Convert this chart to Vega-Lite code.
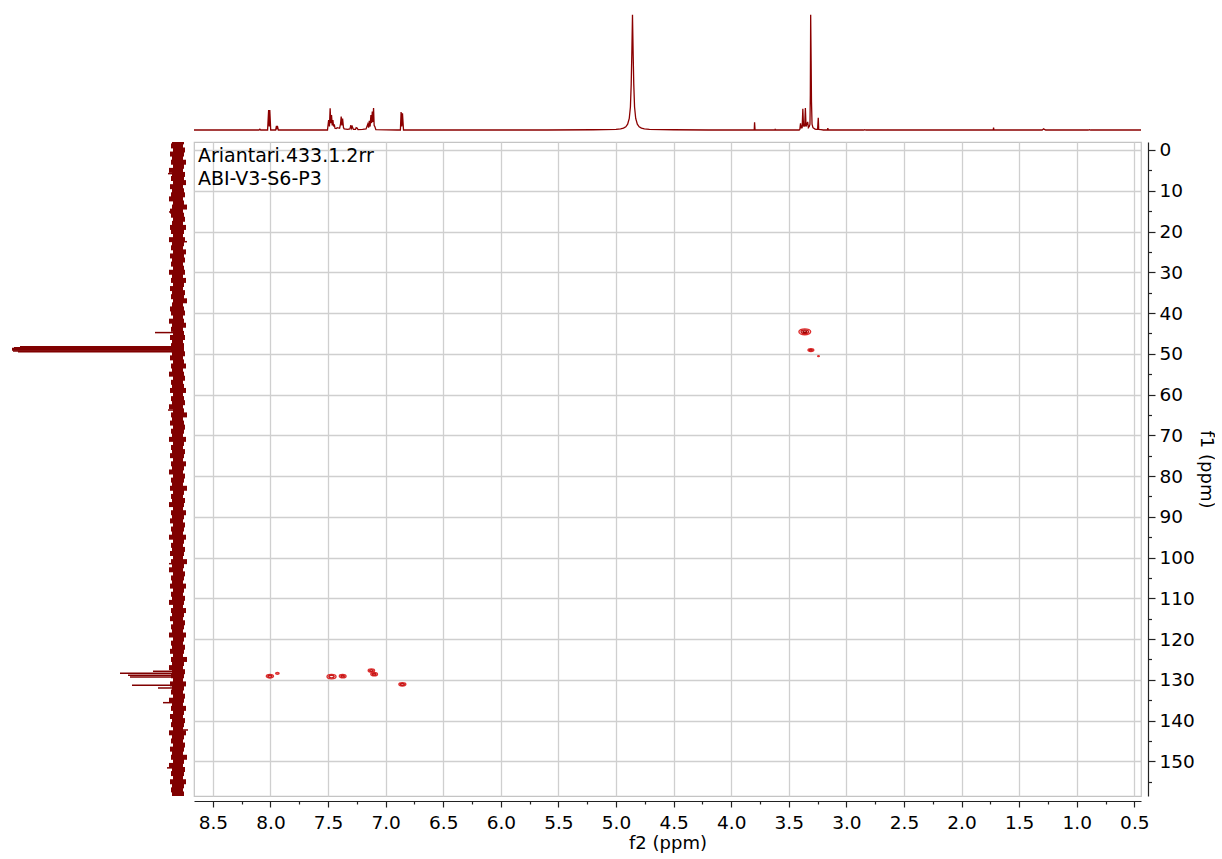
{
  "$schema": "https://vega.github.io/schema/vega-lite/v6.json",
  "padding": {"left": 5, "top": 10, "right": 0, "bottom": 0},
  "config": {
    "view": {"stroke": null},
    "font": "DejaVu Sans",
    "axis": {"labelFont": "DejaVu Sans", "titleFont": "DejaVu Sans", "labelFontSize": 18.5, "titleFontSize": 18, "titleFontWeight": "normal", "labelColor": "#000", "titleColor": "#000"}
  },
  "datasets": {
    "proton": [
      {"h": 8.664, "i": 0}, {"h": 8.3, "i": 0}, {"h": 8.1, "i": 0}, {"h": 8.092, "i": 0.7}, {"h": 8.085, "i": 0},
      {"h": 8.025, "i": 0}, {"h": 8.016, "i": 17.3}, {"h": 8.011, "i": 3}, {"h": 8.006, "i": 17.3}, {"h": 7.998, "i": 0},
      {"h": 7.955, "i": 0}, {"h": 7.948, "i": 3.5}, {"h": 7.944, "i": 2}, {"h": 7.94, "i": 3.5}, {"h": 7.932, "i": 0},
      {"h": 7.8, "i": 0}, {"h": 7.505, "i": 0}, {"h": 7.495, "i": 8.7}, {"h": 7.488, "i": 3}, {"h": 7.482, "i": 18.8}, {"h": 7.476, "i": 6},
      {"h": 7.47, "i": 13}, {"h": 7.464, "i": 4}, {"h": 7.458, "i": 8.7}, {"h": 7.452, "i": 3}, {"h": 7.446, "i": 5}, {"h": 7.44, "i": 1.5},
      {"h": 7.43, "i": 1.2}, {"h": 7.42, "i": 2}, {"h": 7.4, "i": 1.5}, {"h": 7.392, "i": 5}, {"h": 7.386, "i": 11.6}, {"h": 7.38, "i": 4},
      {"h": 7.374, "i": 10}, {"h": 7.366, "i": 2}, {"h": 7.36, "i": 1}, {"h": 7.345, "i": 0.8}, {"h": 7.33, "i": 0.5}, {"h": 7.31, "i": 1},
      {"h": 7.302, "i": 4.3}, {"h": 7.296, "i": 1.5}, {"h": 7.29, "i": 3}, {"h": 7.28, "i": 0.5}, {"h": 7.262, "i": 0.5}, {"h": 7.256, "i": 2},
      {"h": 7.248, "i": 1.7}, {"h": 7.24, "i": 0.3}, {"h": 7.2, "i": 0.5}, {"h": 7.17, "i": 1}, {"h": 7.155, "i": 5.2}, {"h": 7.148, "i": 2},
      {"h": 7.142, "i": 8}, {"h": 7.135, "i": 3}, {"h": 7.128, "i": 13}, {"h": 7.122, "i": 6}, {"h": 7.116, "i": 16}, {"h": 7.111, "i": 7},
      {"h": 7.105, "i": 19}, {"h": 7.1, "i": 4}, {"h": 7.094, "i": 3}, {"h": 7.085, "i": 0.3}, {"h": 6.9, "i": 0}, {"h": 6.872, "i": 0},
      {"h": 6.866, "i": 15.6}, {"h": 6.86, "i": 3}, {"h": 6.854, "i": 14.5}, {"h": 6.845, "i": 0}, {"h": 6.5, "i": 0}, {"h": 5.6, "i": 0},
      {"h": 5.2, "i": 0.2}, {"h": 5.0, "i": 0.5}, {"h": 4.96, "i": 0.9}, {"h": 4.935, "i": 1.6}, {"h": 4.915, "i": 2.8}, {"h": 4.899, "i": 5},
      {"h": 4.885, "i": 10}, {"h": 4.875, "i": 20}, {"h": 4.868, "i": 40}, {"h": 4.862, "i": 70}, {"h": 4.857, "i": 100}, {"h": 4.852, "i": 70},
      {"h": 4.846, "i": 40}, {"h": 4.839, "i": 20}, {"h": 4.829, "i": 10}, {"h": 4.815, "i": 5}, {"h": 4.799, "i": 2.8}, {"h": 4.779, "i": 1.6},
      {"h": 4.754, "i": 0.9}, {"h": 4.71, "i": 0.5}, {"h": 4.5, "i": 0.2}, {"h": 4.2, "i": 0}, {"h": 3.8, "i": 0}, {"h": 3.797, "i": 6.6},
      {"h": 3.793, "i": 0}, {"h": 3.62, "i": 0}, {"h": 3.618, "i": 0.5}, {"h": 3.614, "i": 0}, {"h": 3.41, "i": 0}, {"h": 3.404, "i": 0.5},
      {"h": 3.398, "i": 5.8}, {"h": 3.394, "i": 1.5}, {"h": 3.389, "i": 4}, {"h": 3.384, "i": 1.5}, {"h": 3.378, "i": 18.5}, {"h": 3.372, "i": 3},
      {"h": 3.368, "i": 5}, {"h": 3.362, "i": 3}, {"h": 3.356, "i": 19}, {"h": 3.35, "i": 3}, {"h": 3.344, "i": 5}, {"h": 3.336, "i": 7},
      {"h": 3.33, "i": 2}, {"h": 3.322, "i": 3}, {"h": 3.316, "i": 5}, {"h": 3.313, "i": 30}, {"h": 3.31, "i": 100}, {"h": 3.306, "i": 60},
      {"h": 3.303, "i": 25}, {"h": 3.298, "i": 5}, {"h": 3.29, "i": 2}, {"h": 3.275, "i": 1}, {"h": 3.265, "i": 0.5}, {"h": 3.25, "i": 0.5},
      {"h": 3.244, "i": 10.7}, {"h": 3.24, "i": 0.5}, {"h": 3.22, "i": 0.3}, {"h": 3.2, "i": 0}, {"h": 3.165, "i": 0}, {"h": 3.161, "i": 1.7},
      {"h": 3.157, "i": 0}, {"h": 2.85, "i": 0}, {"h": 2.84, "i": 0.3}, {"h": 2.83, "i": 0}, {"h": 1.725, "i": 0}, {"h": 1.722, "i": 2},
      {"h": 1.719, "i": 0}, {"h": 1.3, "i": 0}, {"h": 1.287, "i": 1}, {"h": 1.28, "i": 0.5}, {"h": 1.27, "i": 0}, {"h": 0.9, "i": 0},
      {"h": 0.89, "i": 0.3}, {"h": 0.88, "i": 0}, {"h": 0.442, "i": 0}
    ],
    "band": [
      {"f": -2, "hi": 6, "lo": -6}, {"f": -1, "hi": 7, "lo": -5}, {"f": 0, "hi": 5, "lo": -7}, {"f": 1, "hi": 8, "lo": -6}, {"f": 2, "hi": 6, "lo": -5},
      {"f": 3, "hi": 7, "lo": -8}, {"f": 4, "hi": 5, "lo": -6}, {"f": 5, "hi": 9, "lo": -5}, {"f": 6, "hi": 6, "lo": -7}, {"f": 7, "hi": 7, "lo": -6},
      {"f": 8, "hi": 5, "lo": -8}, {"f": 9, "hi": 8, "lo": -5}, {"f": 10, "hi": 6, "lo": -6}, {"f": 11, "hi": 7, "lo": -7}, {"f": 12, "hi": 9, "lo": -5},
      {"f": 13, "hi": 5, "lo": -6}, {"f": 14, "hi": 6, "lo": -9}, {"f": 15, "hi": 8, "lo": -5}, {"f": 16, "hi": 7, "lo": -6}, {"f": 17, "hi": 5, "lo": -7},
      {"f": 18, "hi": 6, "lo": -5}, {"f": 19, "hi": 8, "lo": -8}, {"f": 20, "hi": 7, "lo": -6}, {"f": 21, "hi": 5, "lo": -5}, {"f": 22, "hi": 9, "lo": -7},
      {"f": 23, "hi": 6, "lo": -6}, {"f": 24, "hi": 7, "lo": -5}, {"f": 25, "hi": 5, "lo": -8}, {"f": 26, "hi": 8, "lo": -6}, {"f": 27, "hi": 6, "lo": -7},
      {"f": 28, "hi": 7, "lo": -5}, {"f": 29, "hi": 5, "lo": -6}, {"f": 30, "hi": 9, "lo": -7}, {"f": 31, "hi": 6, "lo": -5}, {"f": 32, "hi": 7, "lo": -8},
      {"f": 33, "hi": 5, "lo": -6}, {"f": 34, "hi": 8, "lo": -5}, {"f": 35, "hi": 6, "lo": -7}, {"f": 36, "hi": 7, "lo": -6}, {"f": 37, "hi": 5, "lo": -9},
      {"f": 38, "hi": 6, "lo": -5}, {"f": 39, "hi": 8, "lo": -6}, {"f": 40, "hi": 7, "lo": -7}, {"f": 41, "hi": 5, "lo": -5}, {"f": 42, "hi": 9, "lo": -6},
      {"f": 43, "hi": 6, "lo": -8}, {"f": 44, "hi": 7, "lo": -5}, {"f": 45, "hi": 5, "lo": -6}, {"f": 46, "hi": 8, "lo": -7}, {"f": 47, "hi": 6, "lo": -5},
      {"f": 48, "hi": 7, "lo": -6}, {"f": 49, "hi": 7, "lo": -6}, {"f": 50, "hi": 6, "lo": -7}, {"f": 51, "hi": 8, "lo": -5}, {"f": 52, "hi": 5, "lo": -6},
      {"f": 53, "hi": 7, "lo": -8}, {"f": 54, "hi": 6, "lo": -5}, {"f": 55, "hi": 9, "lo": -6}, {"f": 56, "hi": 5, "lo": -7}, {"f": 57, "hi": 7, "lo": -5},
      {"f": 58, "hi": 6, "lo": -6}, {"f": 59, "hi": 8, "lo": -8}, {"f": 60, "hi": 5, "lo": -5}, {"f": 61, "hi": 7, "lo": -6}, {"f": 62, "hi": 6, "lo": -7},
      {"f": 63, "hi": 9, "lo": -5}, {"f": 64, "hi": 5, "lo": -6}, {"f": 65, "hi": 7, "lo": -9}, {"f": 66, "hi": 6, "lo": -5}, {"f": 67, "hi": 8, "lo": -6},
      {"f": 68, "hi": 5, "lo": -7}, {"f": 69, "hi": 7, "lo": -6}, {"f": 70, "hi": 6, "lo": -5}, {"f": 71, "hi": 9, "lo": -8}, {"f": 72, "hi": 5, "lo": -6},
      {"f": 73, "hi": 7, "lo": -5}, {"f": 74, "hi": 6, "lo": -7}, {"f": 75, "hi": 8, "lo": -6}, {"f": 76, "hi": 5, "lo": -5}, {"f": 77, "hi": 7, "lo": -8},
      {"f": 78, "hi": 6, "lo": -6}, {"f": 79, "hi": 9, "lo": -5}, {"f": 80, "hi": 5, "lo": -7}, {"f": 81, "hi": 7, "lo": -6}, {"f": 82, "hi": 6, "lo": -5},
      {"f": 83, "hi": 8, "lo": -9}, {"f": 84, "hi": 5, "lo": -6}, {"f": 85, "hi": 7, "lo": -5}, {"f": 86, "hi": 6, "lo": -7}, {"f": 87, "hi": 9, "lo": -6},
      {"f": 88, "hi": 5, "lo": -5}, {"f": 89, "hi": 7, "lo": -8}, {"f": 90, "hi": 6, "lo": -6}, {"f": 91, "hi": 8, "lo": -5}, {"f": 92, "hi": 5, "lo": -7},
      {"f": 93, "hi": 7, "lo": -6}, {"f": 94, "hi": 6, "lo": -5}, {"f": 95, "hi": 9, "lo": -8}, {"f": 96, "hi": 5, "lo": -6}, {"f": 97, "hi": 7, "lo": -5},
      {"f": 98, "hi": 6, "lo": -7}, {"f": 99, "hi": 8, "lo": -6}, {"f": 100, "hi": 5, "lo": -5}, {"f": 101, "hi": 7, "lo": -9}, {"f": 102, "hi": 6, "lo": -6},
      {"f": 103, "hi": 9, "lo": -5}, {"f": 104, "hi": 5, "lo": -7}, {"f": 105, "hi": 7, "lo": -6}, {"f": 106, "hi": 6, "lo": -5}, {"f": 107, "hi": 8, "lo": -8},
      {"f": 108, "hi": 5, "lo": -6}, {"f": 109, "hi": 7, "lo": -5}, {"f": 110, "hi": 6, "lo": -7}, {"f": 111, "hi": 9, "lo": -6}, {"f": 112, "hi": 5, "lo": -5},
      {"f": 113, "hi": 7, "lo": -8}, {"f": 114, "hi": 6, "lo": -6}, {"f": 115, "hi": 8, "lo": -5}, {"f": 116, "hi": 5, "lo": -7}, {"f": 117, "hi": 7, "lo": -6},
      {"f": 118, "hi": 6, "lo": -5}, {"f": 119, "hi": 9, "lo": -8}, {"f": 120, "hi": 5, "lo": -6}, {"f": 121, "hi": 7, "lo": -5}, {"f": 122, "hi": 6, "lo": -7},
      {"f": 123, "hi": 8, "lo": -6}, {"f": 124, "hi": 5, "lo": -5}, {"f": 125, "hi": 7, "lo": -9}, {"f": 126, "hi": 6, "lo": -6}, {"f": 127, "hi": 9, "lo": -5},
      {"f": 128, "hi": 6, "lo": -7}, {"f": 129, "hi": 7, "lo": -6}, {"f": 130, "hi": 5, "lo": -5}, {"f": 131, "hi": 8, "lo": -8}, {"f": 132, "hi": 6, "lo": -6},
      {"f": 133, "hi": 7, "lo": -5}, {"f": 134, "hi": 5, "lo": -7}, {"f": 135, "hi": 9, "lo": -6}, {"f": 136, "hi": 6, "lo": -5}, {"f": 137, "hi": 7, "lo": -8},
      {"f": 138, "hi": 5, "lo": -6}, {"f": 139, "hi": 8, "lo": -5}, {"f": 140, "hi": 6, "lo": -7}, {"f": 141, "hi": 7, "lo": -6}, {"f": 142, "hi": 5, "lo": -5},
      {"f": 143, "hi": 9, "lo": -8}, {"f": 144, "hi": 6, "lo": -6}, {"f": 145, "hi": 7, "lo": -5}, {"f": 146, "hi": 5, "lo": -7}, {"f": 147, "hi": 8, "lo": -6},
      {"f": 148, "hi": 6, "lo": -5}, {"f": 149, "hi": 7, "lo": -9}, {"f": 150, "hi": 5, "lo": -6}, {"f": 151, "hi": 9, "lo": -5}, {"f": 152, "hi": 6, "lo": -7},
      {"f": 153, "hi": 7, "lo": -6}, {"f": 154, "hi": 5, "lo": -5}, {"f": 155, "hi": 8, "lo": -8}, {"f": 156, "hi": 6, "lo": -6}, {"f": 157, "hi": 7, "lo": -5},
      {"f": 158, "hi": 6, "lo": -6}
    ],
    "spikes": [
      {"f": 48.3, "v": 158}, {"f": 48.5, "v": 164}, {"f": 48.7, "v": 166}, {"f": 48.9, "v": 166}, {"f": 49.1, "v": 166}, {"f": 49.3, "v": 165}, {"f": 49.5, "v": 160},
      {"f": 44.8, "v": 23}, {"f": 5.8, "v": 10}, {"f": 15.2, "v": 9}, {"f": 22.5, "v": -9}, {"f": 63.8, "v": 10}, {"f": 101.5, "v": 9},
      {"f": 127.9, "v": 25}, {"f": 128.4, "v": 58}, {"f": 128.9, "v": 50}, {"f": 129.3, "v": 48}, {"f": 131.3, "v": 46}, {"f": 132.0, "v": 20},
      {"f": 135.6, "v": 15}, {"f": 142.3, "v": -10}, {"f": 151.6, "v": 11}
    ],
    "peaks": [
      {"h": 8.005, "c": 129.1, "w": 0.062, "lvl": "1"}, {"h": 8.005, "c": 129.1, "w": 0.034, "lvl": "2"},
      {"h": 7.94, "c": 128.4, "w": 0.03, "lvl": "1"},
      {"h": 7.47, "c": 129.2, "w": 0.078, "lvl": "1"}, {"h": 7.47, "c": 129.2, "w": 0.045, "lvl": "2"},
      {"h": 7.373, "c": 129.1, "w": 0.058, "lvl": "1"}, {"h": 7.373, "c": 129.1, "w": 0.03, "lvl": "2"},
      {"h": 7.124, "c": 127.7, "w": 0.055, "lvl": "1"}, {"h": 7.124, "c": 127.7, "w": 0.03, "lvl": "2"},
      {"h": 7.1, "c": 128.6, "w": 0.058, "lvl": "1"}, {"h": 7.1, "c": 128.6, "w": 0.032, "lvl": "2"},
      {"h": 6.855, "c": 131.1, "w": 0.06, "lvl": "1"}, {"h": 6.855, "c": 131.1, "w": 0.034, "lvl": "2"},
      {"h": 3.361, "c": 44.6, "w": 0.102, "lvl": "1"}, {"h": 3.361, "c": 44.6, "w": 0.065, "lvl": "2"}, {"h": 3.361, "c": 44.6, "w": 0.032, "lvl": "3"},
      {"h": 3.308, "c": 49.1, "w": 0.05, "lvl": "1"}, {"h": 3.308, "c": 49.1, "w": 0.026, "lvl": "2"},
      {"h": 3.242, "c": 50.6, "w": 0.014, "lvl": "1"}
    ],
    "labels": [
      {"h": 8.63, "c": 2.9, "t": "Ariantari.433.1.2rr"},
      {"h": 8.63, "c": 8.66, "t": "ABI-V3-S6-P3"}
    ]
  },
  "columns": 2,
  "align": "each",
  "spacing": {"row": 7, "column": 5},
  "resolve": {"scale": {"x": "independent", "y": "independent"}},
  "concat": [
    {
      "width": 183, "height": 123,
      "data": {"values": [{"t": ""}]},
      "mark": {"type": "text"},
      "encoding": {"text": {"field": "t"}}
    },
    {
      "width": 947, "height": 123,
      "data": {"name": "proton"},
      "mark": {"type": "line", "color": "#8b0000", "strokeWidth": 1.3, "clip": true},
      "encoding": {
        "x": {"field": "h", "type": "quantitative", "axis": null, "scale": {"domain": [0.442, 8.664], "reverse": true, "nice": false, "zero": false}},
        "y": {"field": "i", "type": "quantitative", "axis": null, "scale": {"domain": [-2.6, 104.08], "nice": false, "zero": false}}
      }
    },
    {
      "width": 183, "height": 654,
      "layer": [
        {
          "data": {"name": "band"},
          "mark": {"type": "rule", "color": "#800000", "strokeWidth": 5, "strokeCap": "butt", "clip": true},
          "encoding": {
            "y": {"field": "f", "type": "quantitative", "axis": null, "scale": {"domain": [-1.96, 158.5], "reverse": true, "nice": false, "zero": false}},
            "x": {"field": "hi", "type": "quantitative", "axis": null, "scale": {"domain": [-10, 173], "reverse": true, "nice": false, "zero": false}},
            "x2": {"field": "lo"}
          }
        },
        {
          "data": {"name": "spikes"},
          "mark": {"type": "rule", "color": "#800000", "strokeWidth": 1.5, "clip": true},
          "encoding": {
            "y": {"field": "f", "type": "quantitative"},
            "x": {"field": "v", "type": "quantitative"},
            "x2": {"datum": 0}
          }
        }
      ]
    },
    {
      "width": 947, "height": 654,
      "view": {"stroke": "#c4c4c4", "strokeWidth": 1.2},
      "encoding": {
        "x": {
          "field": "h", "type": "quantitative", "title": "f2 (ppm)",
          "scale": {"domain": [0.442, 8.664], "reverse": true, "nice": false, "zero": false},
          "axis": {
            "orient": "bottom", "offset": 5,
            "values": [0.5, 0.75, 1.0, 1.25, 1.5, 1.75, 2.0, 2.25, 2.5, 2.75, 3.0, 3.25, 3.5, 3.75, 4.0, 4.25, 4.5, 4.75, 5.0, 5.25, 5.5, 5.75, 6.0, 6.25, 6.5, 6.75, 7.0, 7.25, 7.5, 7.75, 8.0, 8.25, 8.5],
            "labelExpr": "abs(datum.value * 2 - round(datum.value * 2)) < 0.001 ? format(datum.value, '.1f') : ''",
            "labelOverlap": false, "labelFlush": false, "labelPadding": 6,
            "domainColor": "#222", "tickColor": "#222", "domainWidth": 1.2, "tickWidth": 1.2,
            "tickSize": {"condition": {"test": "abs(datum.value * 2 - round(datum.value * 2)) < 0.001", "value": 6}, "value": 3},
            "grid": true, "gridColor": "#cfcfcf", "gridWidth": 1.3,
            "gridOpacity": {"condition": {"test": "abs(datum.value * 2 - round(datum.value * 2)) < 0.001", "value": 1}, "value": 0},
            "titlePadding": 3
          }
        },
        "y": {
          "field": "c", "type": "quantitative", "title": "f1 (ppm)",
          "scale": {"domain": [-1.96, 158.5], "reverse": true, "nice": false, "zero": false},
          "axis": {
            "orient": "right", "offset": 7,
            "values": [0, 5, 10, 15, 20, 25, 30, 35, 40, 45, 50, 55, 60, 65, 70, 75, 80, 85, 90, 95, 100, 105, 110, 115, 120, 125, 130, 135, 140, 145, 150, 155],
            "labelExpr": "datum.value % 10 === 0 ? datum.label : ''",
            "labelOverlap": false, "labelFlush": false, "labelPadding": 4,
            "domainColor": "#222", "tickColor": "#222", "domainWidth": 1.2, "tickWidth": 1.2,
            "tickSize": {"condition": {"test": "datum.value % 10 === 0", "value": 7}, "value": 3.5},
            "grid": true, "gridColor": "#cfcfcf", "gridWidth": 1.3,
            "gridOpacity": {"condition": {"test": "datum.value % 10 === 0", "value": 1}, "value": 0},
            "titlePadding": 2
          }
        }
      },
      "layer": [
        {
          "data": {"name": "peaks"},
          "mark": {"type": "point", "filled": false, "strokeWidth": 1.4, "opacity": 1, "shape": "M-1,0A1,0.5,0,1,0,1,0A1,0.5,0,1,0,-1,0Z"},
          "encoding": {
            "size": {"field": "w", "type": "quantitative", "legend": null, "scale": {"type": "pow", "exponent": 2, "domain": [0, 0.1], "range": [0, 132.7]}},
            "stroke": {"field": "lvl", "type": "nominal", "legend": null, "scale": {"domain": ["1", "2", "3"], "range": ["#df2f2f", "#c41616", "#a00000"]}}
          }
        },
        {
          "data": {"name": "labels"},
          "mark": {"type": "text", "align": "left", "baseline": "alphabetic", "fontSize": 19, "font": "DejaVu Sans", "color": "#000"},
          "encoding": {"text": {"field": "t"}}
        }
      ]
    }
  ]
}
